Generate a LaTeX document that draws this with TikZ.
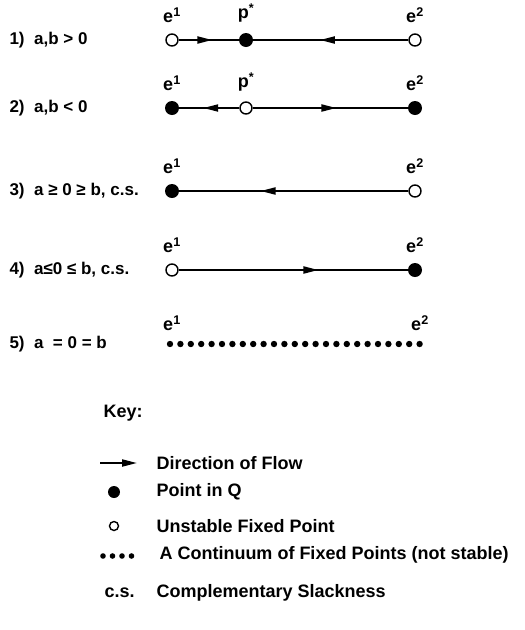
\documentclass[tikz,border=0pt]{standalone}
\usepackage{fontspec}
\setmainfont{Liberation Sans}
\usetikzlibrary{arrows.meta, positioning, decorations.markings}

\tikzset{
  unstpt/.style={circle, draw, line width=1.4pt, fill=white, inner sep=0pt, minimum size=12pt},
  qpoint/.style={circle, fill=black, inner sep=0pt, minimum size=14pt},
  flowline/.style={line width=2pt,
    decoration={markings, mark=at position #1 with {\arrow{Triangle[length=15pt,width=7pt]}}},
    postaction={decorate}},
  rowlabel/.style={anchor=west, font=\bfseries\fontsize{17}{20}\selectfont},
  elabel/.style={font=\bfseries\fontsize{18}{20}\selectfont, inner sep=1pt},
  keytext/.style={anchor=west, font=\bfseries\fontsize{18}{21}\selectfont}
}

\begin{document}
\begin{tikzpicture}[x=1pt, y=-1pt, node distance=9pt]
\useasboundingbox (0,0) rectangle (525,630);

% case 1
\node[rowlabel] (r1) at (6,40) {1)\ \ a,b > 0};
\node[unstpt] (a1) at (172,40) {};
\node[qpoint] (p1) at (246,40) {};
\node[unstpt] (b1) at (415,40) {};
\node[elabel, above=of a1] {e\textsuperscript{1}};
\node[elabel, above=of p1] {p\textsuperscript{*}};
\node[elabel, above=of b1] {e\textsuperscript{2}};
\draw[flowline=0.56] (a1) -- (p1);
\draw[flowline=0.57] (b1) -- (p1);

% case 2
\node[rowlabel] (r2) at (6,108) {2)\ \ a,b < 0};
\node[qpoint] (a2) at (172,108) {};
\node[unstpt] (p2) at (246,108) {};
\node[qpoint] (b2) at (415,108) {};
\node[elabel, above=of a2] {e\textsuperscript{1}};
\node[elabel, above=of p2] {p\textsuperscript{*}};
\node[elabel, above=of b2] {e\textsuperscript{2}};
\draw[flowline=0.6] (p2) -- (a2);
\draw[flowline=0.54] (p2) -- (b2);

% case 3
\node[rowlabel] (r3) at (6,191) {3)\ \ a ≥ 0 ≥ b, c.s.};
\node[qpoint] (a3) at (172,191) {};
\node[unstpt] (b3) at (415,191) {};
\node[elabel, above=of a3] {e\textsuperscript{1}};
\node[elabel, above=of b3] {e\textsuperscript{2}};
\draw[flowline=0.645] (b3) -- (a3);

% case 4
\node[rowlabel] (r4) at (6,270) {4)\ \ a≤0 ≤ b, c.s.};
\node[unstpt] (a4) at (172,270) {};
\node[qpoint] (b4) at (415,270) {};
\node[elabel, above=of a4] {e\textsuperscript{1}};
\node[elabel, above=of b4] {e\textsuperscript{2}};
\draw[flowline=0.61] (a4) -- (b4);

% case 5
\node[rowlabel] (r5) at (6,344) {5)\ \ a \ = 0 = b};
\coordinate (a5) at (172,344);
\coordinate (b5) at (420,344);
\foreach \i in {0,...,24}
  \fill (170+\i*10.4,344) circle (3.2pt);
\node[elabel, above=12pt of a5] {e\textsuperscript{1}};
\node[elabel, above=12pt of b5] {e\textsuperscript{2}};

% key
\node[keytext] (key) at (100,413) {Key:};
\coordinate (ka) at (100,463);
\coordinate (kb) at (137,463);
\draw[line width=2pt, -{Triangle[length=15pt,width=7pt]}] (ka) -- (kb);
\node[keytext] (k1) at (153,463) {Direction of Flow};
\node[qpoint, minimum size=12pt] (kq) at (114,492) {};
\node[keytext] (k2) at (153,492) {Point in Q};
\node[unstpt, minimum size=9pt] (ku) at (114,526) {};
\node[keytext] (k3) at (153,526) {Unstable Fixed Point};
\foreach \i in {0,...,3}
  \fill (103+\i*9.5,556) circle (2.8pt);
\node[keytext] (k4) at (156,555) {A Continuum of Fixed Points (not stable)};
\node[keytext] (cs) at (101,593) {c.s.};
\node[keytext] (k5) at (153,593) {Complementary Slackness};

\end{tikzpicture}
\end{document}
